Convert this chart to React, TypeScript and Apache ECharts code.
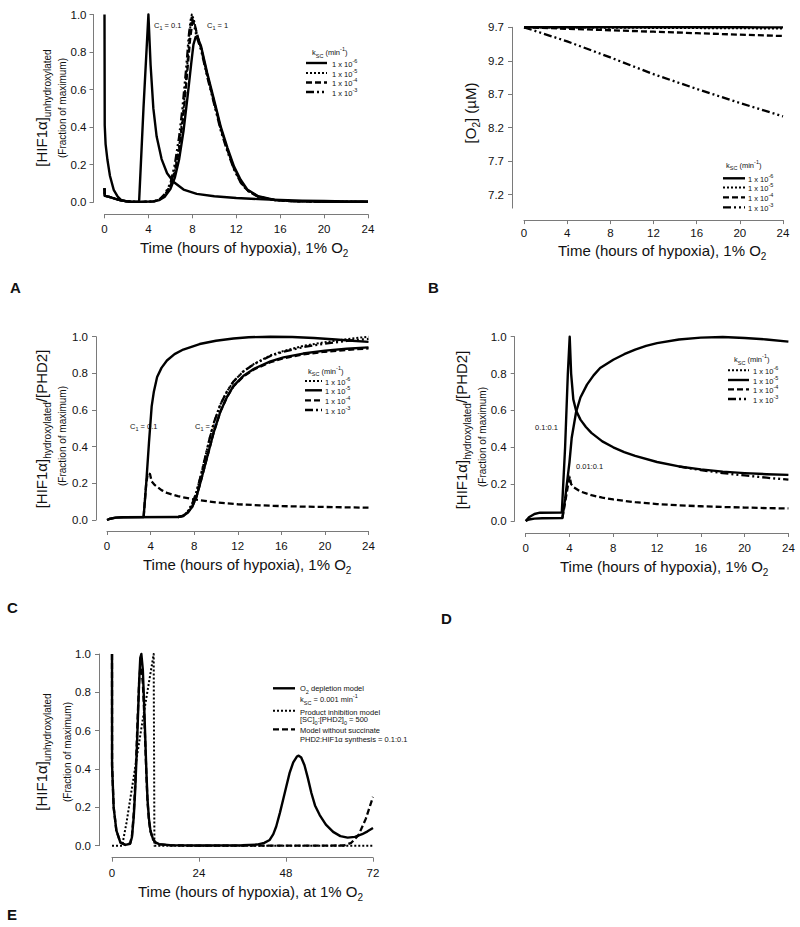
import React, { useEffect, useRef } from 'react';
import * as echarts from 'echarts';

const FONT = '"Liberation Sans", Arial, Helvetica, sans-serif';
const AX = '#7a7a7a';
const INK = '#111';

// ---------- Panel A: [HIF1a] unhydroxylated ----------
const A_C01 = [[0,1.0],[0.02,0.41],[0.1,0.31],[0.27,0.225],[0.5,0.14],[0.84,0.066],[1.2,0.03],[1.5,0.013],[2.0,0.004],[2.5,0.002],[3.15,0.002],[3.55,0.5],[4.0,1.0],[4.2,0.73],[4.45,0.5],[4.75,0.35],[5.2,0.23],[5.7,0.155],[6.3,0.108],[7.2,0.068],[8.4,0.045],[10,0.032],[12,0.023],[14,0.017],[16,0.012],[18,0.009],[20,0.007],[22,0.005],[24,0.004]];
const A_START = [[0,0.075],[0.02,0.035],[0.5,0.028],[1.0,0.018],[1.5,0.01],[2.0,0.006],[2.5,0.003],[3.5,0.002],[4.5,0.005]];
const A_C1_K6 = [[5.0,0.012],[5.5,0.03],[6.0,0.07],[6.4,0.13],[6.8,0.23],[7.2,0.38],[7.6,0.58],[7.9,0.74],[8.1,0.84],[8.3,0.88],[8.5,0.875],[8.8,0.83],[9.35,0.69],[10,0.54],[10.6,0.4],[11.2,0.29],[11.8,0.19],[12.4,0.12],[13,0.068],[14,0.032],[15.5,0.013],[17,0.006],[20,0.003],[24,0.002]];
const A_C1_K5 = [[5.0,0.015],[5.5,0.04],[6.0,0.09],[6.4,0.17],[6.8,0.3],[7.2,0.5],[7.5,0.7],[7.75,0.9],[7.95,1.0],[8.15,0.97],[8.4,0.9],[8.8,0.82],[9.35,0.68],[10,0.53],[10.6,0.39],[11.2,0.28],[11.8,0.18],[12.4,0.11],[13,0.065],[14,0.03],[15.5,0.012],[17,0.006],[20,0.003],[24,0.002]];
const A_C1_K4 = [[5.0,0.014],[5.5,0.037],[6.0,0.085],[6.4,0.16],[6.8,0.28],[7.2,0.47],[7.5,0.67],[7.8,0.87],[8.0,0.96],[8.2,0.95],[8.45,0.89],[8.8,0.82],[9.35,0.68],[10,0.53],[10.6,0.39],[11.2,0.28],[11.8,0.18],[12.4,0.11],[13,0.065],[14,0.03],[15.5,0.012],[17,0.006],[20,0.003],[24,0.002]];
const A_C1_K3 = [[5.0,0.015],[5.5,0.045],[6.0,0.1],[6.4,0.2],[6.8,0.35],[7.1,0.5],[7.45,0.72],[7.7,0.9],[7.9,0.99],[8.1,0.96],[8.4,0.88],[8.8,0.81],[9.35,0.67],[10,0.52],[10.6,0.38],[11.2,0.27],[11.8,0.175],[12.4,0.105],[13,0.062],[14,0.029],[15.5,0.012],[17,0.006],[20,0.003],[24,0.002]];

// ---------- Panel B: [O2] ----------
const B_T = [0, 4, 8, 12, 16, 20, 24];
const B_K6 = [9.7, 9.7, 9.7, 9.7, 9.7, 9.7, 9.699];
const B_K5 = [9.7, 9.697, 9.694, 9.691, 9.688, 9.685, 9.682];
const B_K4 = [9.7, 9.678, 9.656, 9.634, 9.612, 9.59, 9.57];
const B_K3 = [9.7, 9.49, 9.25, 9.0, 8.78, 8.57, 8.37];
const B_TICKS = [7.2, 7.7, 8.2, 8.7, 9.2, 9.7];

// ---------- Panel C: [HIF1a]hydroxylated/[PHD2], C1 ----------
const C_C01_UP = [[0,0],[0.3,0.007],[0.8,0.013],[1.5,0.015],[3.36,0.016],[3.6,0.2],[3.85,0.42],[4.1,0.62],[4.3,0.7],[4.6,0.78],[5.0,0.83],[5.5,0.87],[6.2,0.905],[7,0.93],[8.5,0.96],[10,0.978],[11.6,0.99],[13,0.997],[15,1.0],[17,0.998],[19,0.993],[21,0.985],[22.5,0.978],[24,0.972]];
const C_C01_LOW = [[3.36,0.016],[3.6,0.2],[3.75,0.255],[3.95,0.25],[4.1,0.21],[4.4,0.19],[5,0.163],[5.5,0.148],[6.5,0.13],[8,0.112],[10,0.096],[12,0.086],[14,0.08],[16,0.076],[18,0.073],[20,0.071],[22,0.069],[24,0.067]];
const C_C1_K5 = [[0,0],[0.3,0.007],[0.8,0.013],[1.5,0.015],[6.5,0.016],[7.0,0.022],[7.4,0.04],[7.8,0.07],[8.2,0.125],[8.6,0.21],[9.0,0.3],[9.4,0.39],[9.8,0.48],[10.4,0.59],[11,0.67],[11.6,0.73],[12.5,0.785],[13.5,0.825],[15,0.865],[16.2,0.887],[18,0.908],[20,0.924],[22,0.934],[24,0.942]];
const C_C1_K4 = [[6.5,0.016],[7.0,0.022],[7.4,0.04],[7.8,0.07],[8.2,0.125],[8.6,0.21],[9.0,0.3],[9.4,0.39],[9.8,0.48],[10.4,0.59],[11,0.67],[11.6,0.728],[12.5,0.782],[13.5,0.822],[15,0.861],[16.2,0.882],[18,0.903],[20,0.918],[22,0.928],[24,0.936]];
const C_C1_K3 = [[6.5,0.016],[7.0,0.024],[7.4,0.045],[7.8,0.085],[8.2,0.15],[8.6,0.24],[9.0,0.34],[9.4,0.44],[9.8,0.53],[10.4,0.63],[11,0.7],[11.6,0.755],[12.5,0.81],[13.5,0.85],[15,0.895],[16.2,0.918],[18,0.943],[20,0.962],[22,0.977],[24,0.988]];
const C_C1_K6 = [[6.5,0.016],[7.0,0.024],[7.4,0.045],[7.8,0.085],[8.2,0.15],[8.6,0.24],[9.0,0.34],[9.4,0.44],[9.8,0.53],[10.4,0.63],[11,0.7],[11.6,0.755],[12.5,0.81],[13.5,0.852],[15,0.898],[16.2,0.922],[18,0.95],[20,0.97],[22,0.987],[24,1.0]];

// ---------- Panel D: PHD2:HIF1a synthesis ratios ----------
const D_SAT = [[0,0],[0.3,0.008],[0.8,0.013],[1.5,0.015],[3.35,0.016],[3.6,0.12],[3.8,0.22],[4.0,0.32],[4.2,0.45],[4.6,0.59],[5.0,0.67],[5.6,0.74],[6.2,0.79],[6.8,0.83],[8,0.875],[9,0.905],[10,0.93],[11,0.95],[12,0.965],[14,0.985],[16,0.995],[18,0.998],[20,0.993],[22,0.985],[24,0.973]];
const D_HI = [[0,0],[0.3,0.02],[0.8,0.038],[1.3,0.045],[3.3,0.046],[3.6,0.4],[3.85,0.8],[4.02,1.0],[4.15,0.8],[4.35,0.66],[4.6,0.6],[5.0,0.55],[5.5,0.51],[6,0.478],[7,0.432],[8,0.4],[9,0.374],[10,0.353],[12,0.32],[14,0.296],[16,0.28],[18,0.268],[20,0.26],[22,0.254],[24,0.25]];
const D_HI_K3 = [[14,0.296],[16,0.276],[18,0.26],[20,0.247],[22,0.235],[24,0.224]];
const D_LO = [[3.35,0.016],[3.6,0.1],[3.85,0.19],[4.02,0.24],[4.15,0.2],[4.4,0.182],[5,0.16],[6,0.14],[7,0.127],[8,0.117],[10,0.102],[12,0.092],[14,0.085],[16,0.08],[18,0.076],[20,0.073],[22,0.07],[24,0.068]];

// ---------- Panel E: 72 h comparison of models ----------
const E_O2 = [[0,1.0],[0.02,0.42],[0.46,0.2],[1.2,0.08],[2.3,0.017],[3.7,0.004],[5.0,0.01],[5.5,0.044],[6.0,0.15],[6.4,0.29],[6.8,0.48],[7.1,0.64],[7.5,0.86],[7.8,0.98],[8.1,1.0],[8.5,0.92],[8.9,0.72],[9.2,0.55],[9.5,0.38],[9.8,0.24],[10.2,0.14],[10.6,0.08],[11.3,0.035],[12,0.017],[13,0.008],[16,0.003],[24,0.001],[36,0.002],[40,0.006],[42,0.015],[43.5,0.03],[44.5,0.06],[45.3,0.1],[46.3,0.17],[47.2,0.24],[48.1,0.31],[49,0.38],[50,0.435],[51,0.465],[51.5,0.47],[52.2,0.46],[53.1,0.42],[54,0.355],[55,0.275],[56,0.21],[57.3,0.16],[59,0.11],[61,0.072],[63,0.05],[65,0.042],[67,0.046],[69,0.06],[70.5,0.075],[72,0.092]];
const E_PROD = [[0,0],[2.8,0],[4,0.12],[5.5,0.3],[7,0.48],[8.5,0.66],[10,0.83],[11.5,1.0],[11.7,0],[72,0]];
const E_NOSUC = [[0,1.0],[0.02,0.42],[0.46,0.2],[1.2,0.08],[2.3,0.017],[3.7,0.004],[5.0,0.012],[5.5,0.05],[6.0,0.17],[6.4,0.32],[6.8,0.52],[7.1,0.68],[7.5,0.86],[7.8,0.93],[8.1,0.92],[8.5,0.85],[8.9,0.68],[9.2,0.52],[9.5,0.36],[9.8,0.23],[10.2,0.13],[10.6,0.075],[11.3,0.033],[12,0.016],[13,0.007],[16,0.002],[24,0],[64,0.001],[66,0.015],[68,0.055],[70,0.14],[72,0.255]];

// legend labels
const KSC_LABELS = ['-6', '-5', '-4', '-3'];

type Sty = { type: any; width: number };
const SOLID: Sty = { type: 'solid', width: 2.4 };
const DOTTED: Sty = { type: [2, 2], width: 2 };
const DASHED: Sty = { type: [6, 3], width: 2.3 };
const DASHDOT: Sty = { type: [8, 3, 2, 3, 2, 3], width: 2.3 };

function ser(data: number[][], s: Sty, gi: number) {
  return {
    type: 'line', data, xAxisIndex: gi, yAxisIndex: gi, showSymbol: false, symbol: 'none',
    clip: false, silent: true, animation: false,
    lineStyle: { color: '#000', width: s.width, type: s.type, cap: 'butt', join: 'round' },
  };
}

function xAx(gi: number, max: number, interval: number, offset: number, margin: number) {
  return {
    type: 'value', gridIndex: gi, min: 0, max, interval, offset,
    axisLine: { show: true, onZero: false, lineStyle: { color: AX, width: 1 } },
    axisTick: { show: true, length: 4, lineStyle: { color: AX } },
    axisLabel: { color: INK, fontSize: 11.5, fontFamily: FONT, margin },
    splitLine: { show: false },
  };
}
function yAx(gi: number, min: number, max: number, interval: number | undefined, offset: number, margin: number, custom?: number[]) {
  const ax: any = {
    type: 'value', gridIndex: gi, min, max, offset,
    axisLine: { show: true, onZero: false, lineStyle: { color: AX, width: 1 } },
    axisTick: { show: true, length: 4, lineStyle: { color: AX } },
    axisLabel: { color: INK, fontSize: 11.5, fontFamily: FONT, margin, formatter: (v: number) => v.toFixed(1) },
    splitLine: { show: false },
  };
  if (interval !== undefined) ax.interval = interval;
  if (custom) {
    ax.axisTick.customValues = custom;
    ax.axisLabel.customValues = custom;
  }
  return ax;
}

function rich(main: number, sub: number, mTop: number) {
  const base = { fontFamily: FONT, fill: INK, verticalAlign: 'top' };
  return {
    m: { ...base, fontSize: main, padding: [mTop, 0, 0, 0] },
    s: { ...base, fontSize: sub, padding: [mTop + main * 0.55, 0, 0, 0] },
    u: { ...base, fontSize: sub, padding: [Math.max(0, mTop - main * 0.35), 0, 0, 0] },
  };
}
const R_T = rich(15, 10, 0);
const R_L = rich(7.5, 5.5, 2.8);

function txt(x: number, y: number, text: string, r: any, align = 'left', rot = 0) {
  return {
    type: 'text', x, y, rotation: rot, silent: true,
    style: { text, rich: r, align, verticalAlign: 'middle', fill: INK, fontFamily: FONT },
  };
}
function plain(x: number, y: number, text: string, size: number, align = 'left', rot = 0, weight = 'normal') {
  return {
    type: 'text', x, y, rotation: rot, silent: true,
    style: { text, align, verticalAlign: 'middle', fill: INK, fontFamily: FONT, fontSize: size, fontWeight: weight },
  };
}
function legLine(x1: number, x2: number, y: number, s: Sty) {
  return {
    type: 'line', silent: true, shape: { x1, y1: y, x2, y2: y },
    style: { stroke: '#000', lineWidth: s.width, lineDash: Array.isArray(s.type) ? s.type : null },
  };
}
function kscLegend(titleX: number, titleY: number, x1: number, x2: number, tx: number, rows: number[], styles: Sty[]) {
  const els: any[] = [txt(titleX, titleY, '{m|k}{s|SC}{m| (min}{u|-1}{m|)}', R_L)];
  rows.forEach((y, i) => {
    els.push(legLine(x1, x2, y, styles[i]));
    els.push(txt(tx, y, '{m|1 x 10}{u|' + KSC_LABELS[i] + '}', R_L));
  });
  return els;
}

const Y_UNHYD = '{m|[HIF1α]}{s|unhydroxylated}';
const Y_HYD = '{m|[HIF1α]}{s|hydroxylated}{m|/[PHD2]}';
const X_T = '{m|Time (hours of hypoxia), 1% O}{s|2}';
const X_TE = '{m|Time (hours of hypoxia), at 1% O}{s|2}';
const FRAC = '(Fraction of maximum)';
const ROT = Math.PI / 2;

export default function App() {
  const ref = useRef<HTMLDivElement>(null);
  useEffect(() => {
    if (!ref.current) return;
    const chart = echarts.init(ref.current, undefined, { renderer: 'svg' });
    const grid = [
      { left: 104.5, top: 14.5, width: 263.5, height: 187.8 },
      { left: 524, top: 27.3, width: 259, height: 180.8 },
      { left: 107, top: 336.7, width: 261.5, height: 183.3 },
      { left: 525.7, top: 336.7, width: 262.7, height: 184.3 },
      { left: 112, top: 654, width: 261, height: 191.7 },
    ];
    const xAxis = [
      xAx(0, 24, 4, 12, 9),
      xAx(1, 24, 4, 12, 7),
      xAx(2, 24, 4, 11, 9),
      xAx(3, 24, 4, 12, 9),
      xAx(4, 72, 24, 12, 9),
    ];
    const yAxis = [
      yAx(0, 0, 1, 0.2, 11, 7),
      yAx(1, 7.0, 9.7, undefined, 12, 8, B_TICKS),
      yAx(2, 0, 1, 0.2, 11, 8),
      yAx(3, 0, 1, 0.2, 11, 8),
      yAx(4, 0, 1, 0.2, 13, 8),
    ];
    const bPts = (vals: number[]) => B_T.map((t, i) => [t, vals[i]]);
    const series = [
      ser(A_C01, SOLID, 0),
      ser(A_START.concat(A_C1_K6), SOLID, 0),
      ser(A_START.concat(A_C1_K5), DOTTED, 0),
      ser(A_START.concat(A_C1_K4), DASHED, 0),
      ser(A_START.concat(A_C1_K3), DASHDOT, 0),

      ser(bPts(B_K3), DASHDOT, 1),
      ser(bPts(B_K4), DASHED, 1),
      ser(bPts(B_K5), DOTTED, 1),
      ser(bPts(B_K6), SOLID, 1),

      ser(C_C01_UP, SOLID, 2),
      ser(C_C01_LOW, DASHED, 2),
      ser(C_C1_K5, SOLID, 2),
      ser(C_C1_K4, DASHED, 2),
      ser(C_C1_K3, DASHDOT, 2),
      ser(C_C1_K6, DOTTED, 2),

      ser(D_SAT, SOLID, 3),
      ser(D_HI, SOLID, 3),
      ser(D_HI_K3, DASHDOT, 3),
      ser(D_LO, DASHED, 3),

      ser(E_O2, SOLID, 4),
      ser(E_PROD, DOTTED, 4),
      ser(E_NOSUC, DASHED, 4),
    ];
    const graphic: any[] = [
      // Panel A
      txt(43, 108, Y_UNHYD, R_T, 'center', ROT),
      plain(62, 108, FRAC, 10, 'center', ROT),
      txt(140, 249.5, X_T, R_T),
      plain(10, 287, 'A', 15, 'left', 0, 'bold'),
      txt(154, 25, '{m|C}{s|1}{m| = 0.1}', R_L),
      txt(207, 25, '{m|C}{s|1}{m| = 1}', R_L),
      ...kscLegend(312, 52.5, 306, 327, 332, [63, 73, 82.5, 92], [SOLID, DOTTED, DASHED, DASHDOT]),
      // Panel B
      txt(472, 113, '{m|[O}{s|2}{m|] (µM)}', R_T, 'center', ROT),
      txt(558, 252, X_T, R_T),
      plain(428, 287, 'B', 15, 'left', 0, 'bold'),
      ...kscLegend(726, 165, 723, 745, 748, [178.3, 187.5, 197.3, 207.3], [SOLID, DOTTED, DASHED, DASHDOT]),
      // Panel C
      txt(43, 429, Y_HYD, R_T, 'center', ROT),
      plain(62, 436, FRAC, 10, 'center', ROT),
      txt(143, 566.5, X_T, R_T),
      plain(7, 607, 'C', 15, 'left', 0, 'bold'),
      txt(130, 426, '{m|C}{s|1}{m| = 0.1}', R_L),
      txt(195, 426, '{m|C}{s|1}{m| = 1}', R_L),
      ...kscLegend(308, 371, 305, 322, 325, [381, 390.3, 400.3, 410], [DOTTED, SOLID, DASHED, DASHDOT]),
      // Panel D
      txt(463, 430, Y_HYD, R_T, 'center', ROT),
      plain(482, 437, FRAC, 10, 'center', ROT),
      txt(560, 568, X_T, R_T),
      plain(441, 618, 'D', 15, 'left', 0, 'bold'),
      plain(535, 427, '0.1:0.1', 7.5),
      plain(576, 466, '0.01:0.1', 7.5),
      ...kscLegend(734, 359.3, 728, 749, 753, [370.3, 380, 389.3, 399], [DOTTED, SOLID, DASHED, DASHDOT]),
      // Panel E
      txt(43, 752, Y_UNHYD, R_T, 'center', ROT),
      plain(67, 752, FRAC, 10, 'center', ROT),
      txt(138, 893.5, X_TE, R_T),
      plain(7, 914, 'E', 15, 'left', 0, 'bold'),
      legLine(273, 295, 688.3, SOLID),
      txt(300, 688.3, '{m|O}{s|2}{m| depletion model}', R_L),
      txt(300, 699.3, '{m|k}{s|SC}{m| = 0.001 min}{u|-1}', R_L),
      legLine(273, 295, 710.7, DOTTED),
      txt(300, 710.7, '{m|Product inhibition model}', R_L),
      txt(300, 719.5, '{m|[SC]}{s|0}{m|:[PHD2]}{s|0}{m| = 500}', R_L),
      legLine(273, 295, 729.3, DASHED),
      txt(300, 729.3, '{m|Model without succinate}', R_L),
      txt(300, 738.5, '{m|PHD2:HIF1α synthesis = 0.1:0.1}', R_L),
    ];
    chart.setOption({
      animation: false,
      backgroundColor: '#ffffff',
      textStyle: { fontFamily: FONT },
      grid, xAxis, yAxis, series, graphic,
    });
    return () => chart.dispose();
  }, []);
  return <div ref={ref} style={{ position: 'fixed', left: 0, top: 0, width: 800, height: 927, background: '#fff' }} />;
}
